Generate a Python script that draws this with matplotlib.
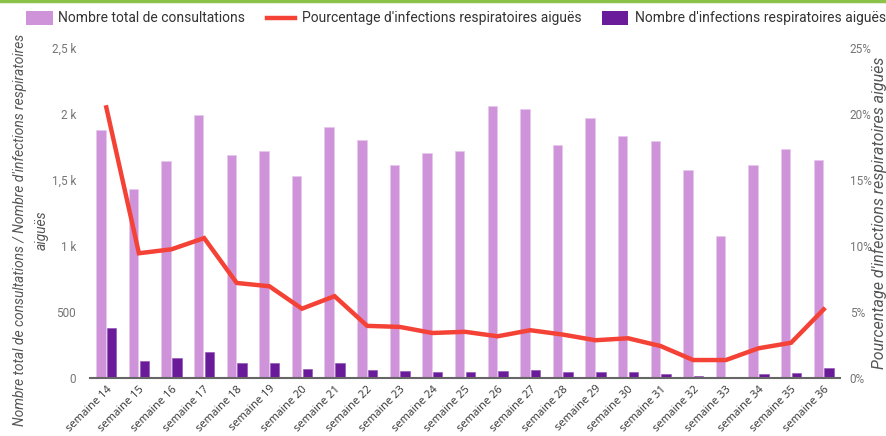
import matplotlib
matplotlib.use("Agg")
import matplotlib.pyplot as plt
from matplotlib.patches import Rectangle
from matplotlib.lines import Line2D
from matplotlib.ticker import FixedLocator, FixedFormatter
import numpy as np

plt.rcParams['font.family'] = ['Roboto', 'DejaVu Sans']

weeks = [f"semaine {w}" for w in range(14, 37)]
consultations = [1875, 1430, 1645, 1995, 1690, 1720, 1530, 1900, 1800, 1615, 1705,
                 1720, 2060, 2040, 1762, 1972, 1835, 1798, 1575, 1075, 1610, 1735, 1652]
ira = [376, 129, 152, 199, 114, 114, 71, 114, 63, 56, 48,
       48, 56, 63, 48, 48, 48, 33, 15, 10, 28, 40, 78]
pct = [20.5, 9.45, 9.75, 10.6, 7.2, 6.95, 5.25, 6.2, 3.95, 3.87, 3.41,
       3.5, 3.16, 3.62, 3.29, 2.86, 3.01, 2.42, 1.36, 1.36, 2.25, 2.67, 5.2]

left_ticks = [0, 500, 1000, 1500, 2000, 2500]
left_labels = ["0", "500", "1 k", "1,5 k", "2 k", "2,5 k"]
right_ticks = [0, 5, 10, 15, 20, 25]
right_labels = ["0%", "5%", "10%", "15%", "20%", "25%"]
legend_labels = ["Nombre total de consultations",
                 "Pourcentage d'infections respiratoires aiguës",
                 "Nombre d'infections respiratoires aiguës"]

c_light = "#CE93D8"
c_dark = "#6A1B9A"
c_red = "#F44336"
c_grey = "#666666"

W, H = 886, 436
fig = plt.figure(figsize=(W/100, H/100), dpi=100)
ax = fig.add_axes([90/W, 1-378/H, 750/W, 330/H])

def fx(px):
    return px / W

def fy(py):
    return 1 - py / H

x = np.arange(len(weeks))
w = 0.29
ax.bar(x - w/2 - 0.02, consultations, width=w, color=c_light, edgecolor="#E8C8EE", linewidth=0.6, zorder=2)
ax.bar(x + w/2 + 0.02, ira, width=w, color=c_dark, edgecolor="#8E4CB0", linewidth=0.4, zorder=2)
ax.set_xlim(-0.5, len(weeks) - 0.5)
ax.set_ylim(0, 2500)
ax.yaxis.set_major_locator(FixedLocator(left_ticks))
ax.yaxis.set_major_formatter(FixedFormatter(left_labels))
ax.set_xticks(x)
ax.set_xticklabels(weeks, rotation=45, ha='right', rotation_mode='anchor',
                   fontsize=8, color="#333333", family=['Open Sans', 'DejaVu Sans'])
ax.tick_params(axis='x', length=0, pad=4)
ax.tick_params(axis='y', length=0, pad=10, labelsize=8.5, labelcolor="#757575")
for s in ['top', 'left', 'right']:
    ax.spines[s].set_visible(False)
ax.spines['bottom'].set_color(c_grey)
ax.spines['bottom'].set_linewidth(1.5)

ax2 = ax.twinx()
ax2.plot(x, pct, color=c_red, linewidth=3.2, solid_joinstyle='miter', zorder=3)
ax2.set_ylim(0, 25)
ax2.yaxis.set_major_locator(FixedLocator(right_ticks))
ax2.yaxis.set_major_formatter(FixedFormatter(right_labels))
ax2.tick_params(axis='y', length=0, pad=7, labelsize=8.5, labelcolor="#757575")
for s in ['top', 'left', 'right', 'bottom']:
    ax2.spines[s].set_visible(False)

fig.text(fx(31), fy(230), "Nombre total de consultations / Nombre d'infections respiratoires\naiguës",
         rotation=90, ha='center', va='center', fontsize=10, style='italic',
         color="#555555", multialignment='center', linespacing=1.65)
fig.text(fx(879), fy(213), "Pourcentage d'infections respiratoires aiguës",
         rotation=90, ha='center', va='center', fontsize=11.5, style='italic', color="#555555")

# green top border
fig.add_artist(Line2D([0, 1], [fy(1), fy(1)], transform=fig.transFigure, color="#8BC34A", linewidth=2.5))

# legend
ly = 18
fig.add_artist(Rectangle((fx(26), fy(25)), fx(53) - fx(26), fy(11) - fy(25),
                         transform=fig.transFigure, facecolor=c_light, edgecolor='none'))
fig.add_artist(Line2D([fx(267), fx(295)], [fy(ly), fy(ly)], transform=fig.transFigure,
                      color=c_red, linewidth=3.2))
fig.add_artist(Rectangle((fx(602), fy(25)), fx(628) - fx(602), fy(11) - fy(25),
                         transform=fig.transFigure, facecolor=c_dark, edgecolor='none'))
for tx, lab in zip([58, 302, 635], legend_labels):
    fig.text(fx(tx), fy(ly), lab, ha='left', va='center', fontsize=10, color="#333333")

fig.savefig("out.png", dpi=100)
